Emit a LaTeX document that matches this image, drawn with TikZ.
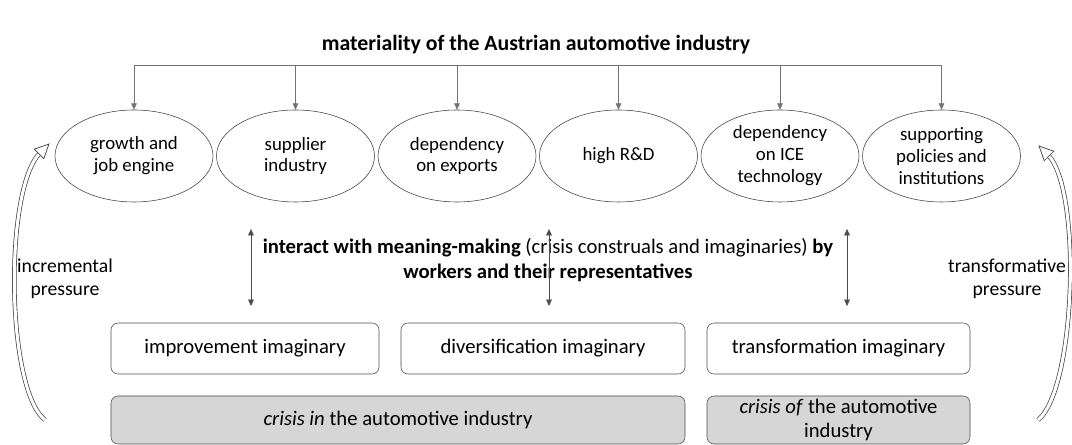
\documentclass[tikz,border=0pt]{standalone}
\usepackage{fontspec}
\setmainfont{Carlito}
\usetikzlibrary{arrows.meta,shapes.geometric}
\begin{document}
\begin{tikzpicture}[>={Triangle[length=4.5pt,width=4pt]},
  font=\fontsize{14.7}{17.7}\selectfont,
  factor/.style={draw=black!75,ellipse,minimum width=3.95cm,minimum height=2.3cm,align=center,inner sep=0pt,font=\fontsize{13.4}{15.6}\selectfont},
  imag/.style={draw=black!70,rounded corners=5pt,minimum height=1.275cm,align=center},
  crisis/.style={imag,fill=black!16,minimum height=1.2cm},
  link/.style={draw=black!55,->},
  side/.style={align=center,font=\fontsize{14}{16.5}\selectfont},
  pressure/.style={draw=black!75,line width=0.5pt,double=white,double distance=2.2pt},
  head/.style={draw=black!75,line width=0.5pt,fill=white}]
\useasboundingbox (0,0) rectangle (26.8,11.125);
\node[font=\fontsize{15.5}{18}\selectfont\bfseries] (title) at (13.4,10.0) {materiality of the Austrian automotive industry};
\node[factor] (growth) at (3.35,7.225) {growth and\\job engine};
\node[factor] (supplier) at (7.3875,7.225) {supplier\\industry};
\node[factor] (exports) at (11.425,7.225) {dependency\\on exports};
\node[factor] (rnd) at (15.4625,7.225) {high R\&D};
\node[factor] (ice) at (19.5,7.225) {dependency\\on ICE\\technology};
\node[factor] (policies) at (23.5375,7.225) {supporting\\policies and\\institutions};
\coordinate (top) at (0,9.5);
\draw[draw=black!55] (growth.north |- top) -- (policies.north |- top);
\draw[link] (growth.north |- top) -- (growth.north);
\draw[link] (supplier.north |- top) -- (supplier.north);
\draw[link] (exports.north |- top) -- (exports.north);
\draw[link] (rnd.north |- top) -- (rnd.north);
\draw[link] (ice.north |- top) -- (ice.north);
\draw[link] (policies.north |- top) -- (policies.north);
\node[align=center] (meaning) at (13.7,4.6125) {\textbf{interact with meaning-making} (crisis construals and imaginaries) \textbf{by}\\\textbf{workers and their representatives}};
\coordinate (ia) at (6.275,5.4);
\coordinate (ib) at (6.275,3.475);
\coordinate (da) at (13.725,5.4);
\coordinate (db) at (13.725,3.475);
\coordinate (ta) at (21.175,5.4);
\coordinate (tb) at (21.175,3.475);
\draw[<->,black!70] (ia) -- (ib);
\draw[<->,black!70] (da) -- (db);
\draw[<->,black!70] (ta) -- (tb);
\node[imag,minimum width=6.7cm] (improve) at (6.125,2.4125) {improvement imaginary};
\node[imag,minimum width=7.1cm] (divers) at (13.575,2.4125) {diversification imaginary};
\node[imag,minimum width=6.575cm] (transf) at (20.9625,2.4125) {transformation imaginary};
\node[crisis,minimum width=14.35cm] (crisisin) at (9.95,0.625) {\textit{crisis in} the automotive industry};
\node[crisis,minimum width=6.575cm,inner sep=1pt] (crisisof) at (20.9625,0.625) {\textit{crisis of} the automotive\\industry};
% pressure arrows
\coordinate (incs) at (1.125,0.625);
\coordinate (ince) at (1.0,7.3);
\coordinate (trs) at (25.95,0.625);
\coordinate (tre) at (26.2,7.25);
\draw[pressure] (incs) .. controls (0.15,1.4) and (0.1,6.4) .. (ince);
\draw[pressure] (trs) .. controls (26.9,1.4) and (27.05,6.4) .. (tre);
\begin{scope}[shift={(ince)},rotate=45]
\draw[head] (-1pt,-4.8pt) -- (9pt,0) -- (-1pt,4.8pt) -- cycle;
\end{scope}
\begin{scope}[shift={(tre)},rotate=135]
\draw[head] (-1pt,-4.8pt) -- (9pt,0) -- (-1pt,4.8pt) -- cycle;
\end{scope}
\node[side] (inc) at (1.625,4.15) {incremental\\pressure};
\node[side] (trans) at (25.175,4.15) {transformative\\pressure};
\end{tikzpicture}
\end{document}
